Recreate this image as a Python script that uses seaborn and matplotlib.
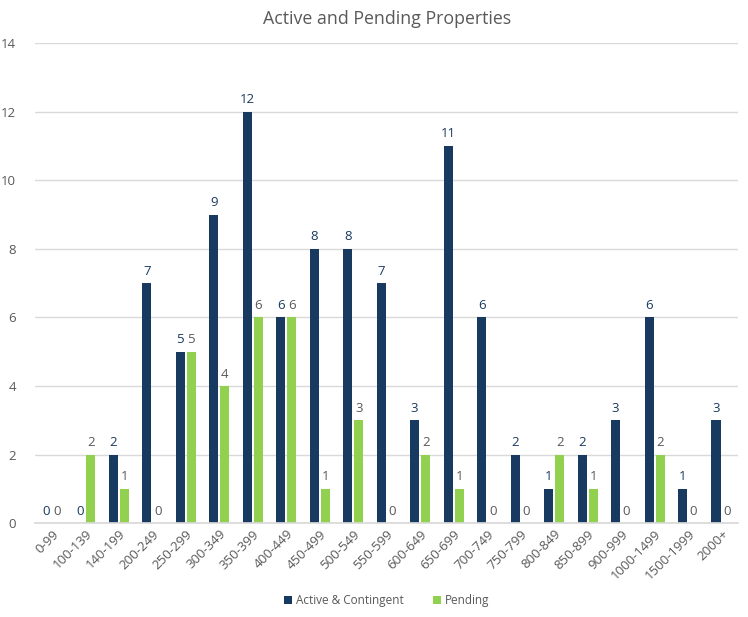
import matplotlib
matplotlib.use("Agg")
import matplotlib.pyplot as plt
import pandas as pd
import seaborn as sns

categories = ["0-99", "100-139", "140-199", "200-249", "250-299", "300-349",
              "350-399", "400-449", "450-499", "500-549", "550-599", "600-649",
              "650-699", "700-749", "750-799", "800-849", "850-899", "900-999",
              "1000-1499", "1500-1999", "2000+"]
active = [0, 0, 2, 7, 5, 9, 12, 6, 8, 8, 7, 3, 11, 6, 2, 1, 2, 3, 6, 1, 3]
pending = [0, 2, 1, 0, 5, 4, 6, 6, 1, 3, 0, 2, 1, 0, 0, 2, 1, 0, 2, 0, 0]
series = ["Active & Contingent", "Pending"]

navy = "#193A60"
green = "#92D050"
gray = "#595959"

df = pd.DataFrame({
    "range": categories * 2,
    "count": active + pending,
    "series": [series[0]] * len(categories) + [series[1]] * len(categories),
})

sns.set_theme(style="white")
plt.rcParams["font.family"] = ["Open Sans", "DejaVu Sans"]

fig = plt.figure(figsize=(7.48, 6.17), dpi=100)
ax = fig.add_axes([0.047, 0.152, 0.940, 0.778])

sns.barplot(data=df, x="range", y="count", hue="series", order=categories,
            hue_order=series, palette=[navy, green], width=0.66, gap=0.18,
            saturation=1, linewidth=0, ax=ax, legend=True)

# value labels
for cont, col in zip(ax.containers, [navy, gray]):
    ax.bar_label(cont, fmt="%d", padding=4, fontsize=9.5, color=col)

ax.set_ylim(0, 14)
ax.set_yticks(range(0, 15, 2))
ax.yaxis.grid(True, color="#D9D9D9", linewidth=1)
ax.set_axisbelow(True)
ax.set_xlabel("")
ax.set_ylabel("")
ax.set_xlim(-0.5, len(categories) - 0.5)
for s in ["top", "right", "left"]:
    ax.spines[s].set_visible(False)
ax.spines["bottom"].set_color("#D9D9D9")
ax.tick_params(axis="y", length=0, labelsize=9.5, labelcolor=gray, pad=14)
ax.tick_params(axis="x", length=0, labelsize=9.5, labelcolor=gray, pad=3)
plt.setp(ax.get_xticklabels(), rotation=45, ha="right", rotation_mode="anchor")

ax.set_title("Active and Pending Properties", fontsize=12.8, color=gray, pad=14)

ax.legend(loc="upper center", bbox_to_anchor=(0.5, -0.125), ncol=2,
          frameon=False, fontsize=8.5, labelcolor=gray, handlelength=0.7,
          handleheight=0.7, handletextpad=0.3, columnspacing=2.5)

fig.savefig("out.png", dpi=100)
